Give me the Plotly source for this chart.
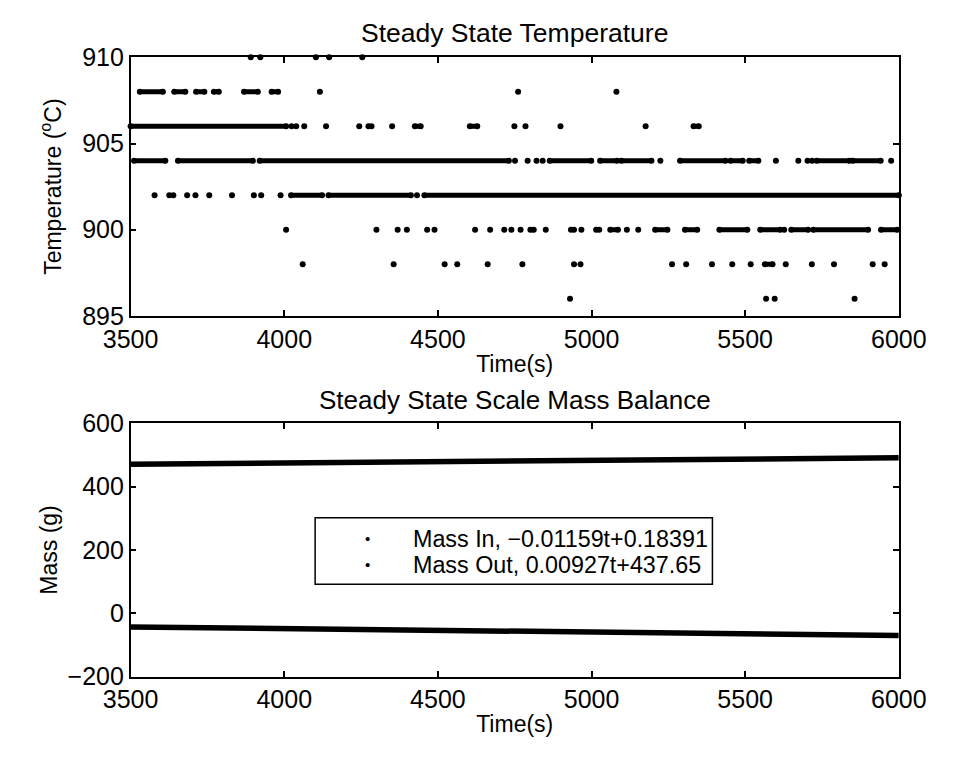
import plotly.graph_objects as go

# ---------------- data ----------------
time_ticks = [3500, 4000, 4500, 5000, 5500, 6000]
temp_ticks = [895, 900, 905, 910]
mass_ticks = [-200, 0, 200, 400, 600]

# dense runs of temperature samples (level, start time, end time)
run_level = [908, 908, 908, 908, 908, 908,
             906, 906, 906, 906,
             904, 904, 904, 904, 904, 904, 904, 904, 904, 904, 904,
             902, 902, 902,
             900, 900, 900, 900, 900, 900, 900, 900, 900,
             898]
run_start = [3530, 3642, 3713, 3771, 3869, 3959,
             3500, 4425, 4604, 5332,
             3511, 3654, 3920, 4864, 5028, 5097, 5288, 5452, 5513, 5733, 5850,
             4022, 4144, 4456,
             4801, 5207, 5304, 5416, 5549, 5650, 5722, 5942, 5061,
             5564]
run_end = [3605, 3678, 3740, 3787, 3914, 3980,
           4006, 4444, 4628, 5349,
           3613, 3898, 4731, 4999, 5083, 5195, 5436, 5492, 5543, 5839, 5941,
           4123, 4412, 6000,
           4812, 5247, 5344, 5507, 5614, 5705, 5900, 5995, 5086,
           5589]

# isolated temperature samples
dot_time = [3891, 3922, 4103, 4146, 4254,
            4116, 4761, 5081,
            4024, 4039, 4065, 4136, 4244, 4274, 4284, 4351, 4749, 4785, 4899, 5176,
            4751, 4792, 4821, 4841, 5224, 5600, 5673, 5703, 5718, 5975,
            3578, 3626, 3639, 3684, 3711, 3756, 3830, 3901, 3925, 3988, 4432,
            4006, 4300, 4369, 4399, 4465, 4489, 4621, 4670, 4716, 4739, 4769,
            4851, 4933, 4943, 4967, 5015, 5025, 5115, 5152, 5627,
            4060, 4356, 4522, 4563, 4662, 4775, 4943, 4964, 5262, 5308, 5392,
            5458, 5518, 5632, 5717, 5789, 5915, 5954,
            4930, 5568, 5596, 5856]
dot_temp = [910, 910, 910, 910, 910,
            908, 908, 908,
            906, 906, 906, 906, 906, 906, 906, 906, 906, 906, 906, 906,
            904, 904, 904, 904, 904, 904, 904, 904, 904, 904,
            902, 902, 902, 902, 902, 902, 902, 902, 902, 902, 902,
            900, 900, 900, 900, 900, 900, 900, 900, 900, 900, 900,
            900, 900, 900, 900, 900, 900, 900, 900, 900,
            898, 898, 898, 898, 898, 898, 898, 898, 898, 898, 898,
            898, 898, 898, 898, 898, 898, 898,
            896, 896, 896, 896]

# mass balance samples
mass_time = [3500, 4000, 4500, 5000, 5500, 6000]
mass_in = [-43, -48, -54, -59, -65, -70]
mass_out = [471, 475, 479, 483, 487, 491]
legend_labels = ["Mass In, \u22120.01159t+0.18391", "Mass Out, 0.00927t+437.65"]

# ---------------- figure ----------------
W, H = 956, 759
FONT = "Liberation Sans, Arial, Helvetica, sans-serif"


def fx(p):
    return p / W


def fy(p):
    return 1 - p / H


fig = go.Figure()

seg_x, seg_y = [], []
for lv, s, e in zip(run_level, run_start, run_end):
    seg_x += [s, e, None]
    seg_y += [lv, lv, None]
fig.add_trace(go.Scatter(x=seg_x, y=seg_y, mode="lines+markers",
                         line=dict(color="black", width=5),
                         marker=dict(color="black", size=6),
                         showlegend=False, xaxis="x", yaxis="y", cliponaxis=False,
                         name="Temperature"))
fig.add_trace(go.Scatter(x=dot_time, y=dot_temp, mode="markers",
                         marker=dict(color="black", size=6),
                         showlegend=False, xaxis="x", yaxis="y", cliponaxis=False,
                         name="Temperature"))

fig.add_trace(go.Scatter(x=mass_time, y=mass_in, mode="lines",
                         line=dict(color="black", width=5.5),
                         showlegend=False, xaxis="x2", yaxis="y2", name=legend_labels[0]))
fig.add_trace(go.Scatter(x=mass_time, y=mass_out, mode="lines",
                         line=dict(color="black", width=5.5),
                         showlegend=False, xaxis="x2", yaxis="y2", name=legend_labels[1]))

axis_common = dict(showline=True, linecolor="black", linewidth=1.5, mirror="allticks",
                   ticks="inside", ticklen=6, tickwidth=1.5, tickcolor="black",
                   showgrid=False, zeroline=False,
                   tickfont=dict(family=FONT, size=25, color="black"))

xdom = [fx(109), fx(925)]

# legend box (drawn as in the original figure)
LX0, LX1, LY0, LY1 = 305, 727, 523, 592
row_y = [545, 572]
shapes = [dict(type="rect", xref="paper", yref="paper",
               x0=fx(LX0), x1=fx(LX1), y0=fy(LY1), y1=fy(LY0),
               line=dict(color="black", width=1.5), fillcolor="white", layer="above")]
annotations = [
    dict(text="Steady State Temperature", x=fx(517), y=fy(37), xref="paper", yref="paper",
         xanchor="center", yanchor="bottom", showarrow=False,
         font=dict(family=FONT, size=26.5, color="black")),
    dict(text="Steady State Scale Mass Balance", x=fx(517), y=fy(418), xref="paper", yref="paper",
         xanchor="center", yanchor="bottom", showarrow=False,
         font=dict(family=FONT, size=26, color="black")),
]
for lab, ry in zip(legend_labels, row_y):
    annotations.append(dict(text="\u2022", x=fx(361), y=fy(ry), xref="paper", yref="paper",
                            xanchor="center", yanchor="middle", showarrow=False,
                            font=dict(family=FONT, size=15, color="black")))
    annotations.append(dict(text=lab, x=fx(407), y=fy(ry), xref="paper", yref="paper",
                            xanchor="left", yanchor="middle", showarrow=False,
                            font=dict(family=FONT, size=23.3, color="black")))

fig.update_layout(
    width=W, height=H,
    margin=dict(l=0, r=0, t=0, b=0),
    paper_bgcolor="white", plot_bgcolor="white",
    font=dict(family=FONT, color="black"),
    showlegend=False,
    xaxis=dict(domain=xdom, range=[3500, 6000], tickvals=time_ticks,
               anchor="y", title=dict(text="Time(s)", font=dict(size=23), standoff=4),
               **axis_common),
    yaxis=dict(domain=[fy(313.5), fy(45)], range=[895, 910], tickvals=temp_ticks,
               anchor="x", title=dict(text="Temperature (<sup>o</sup>C)", font=dict(size=23), standoff=14),
               **axis_common),
    xaxis2=dict(domain=xdom, range=[3500, 6000], tickvals=time_ticks,
                anchor="y2", title=dict(text="Time(s)", font=dict(size=23), standoff=4),
                **axis_common),
    yaxis2=dict(domain=[fy(688), fy(425)], range=[-200, 600], tickvals=mass_ticks,
                anchor="x2", title=dict(text="Mass (g)", font=dict(size=23), standoff=4),
                **axis_common),
    shapes=shapes,
    annotations=annotations,
)

fig.write_html("out.html")
